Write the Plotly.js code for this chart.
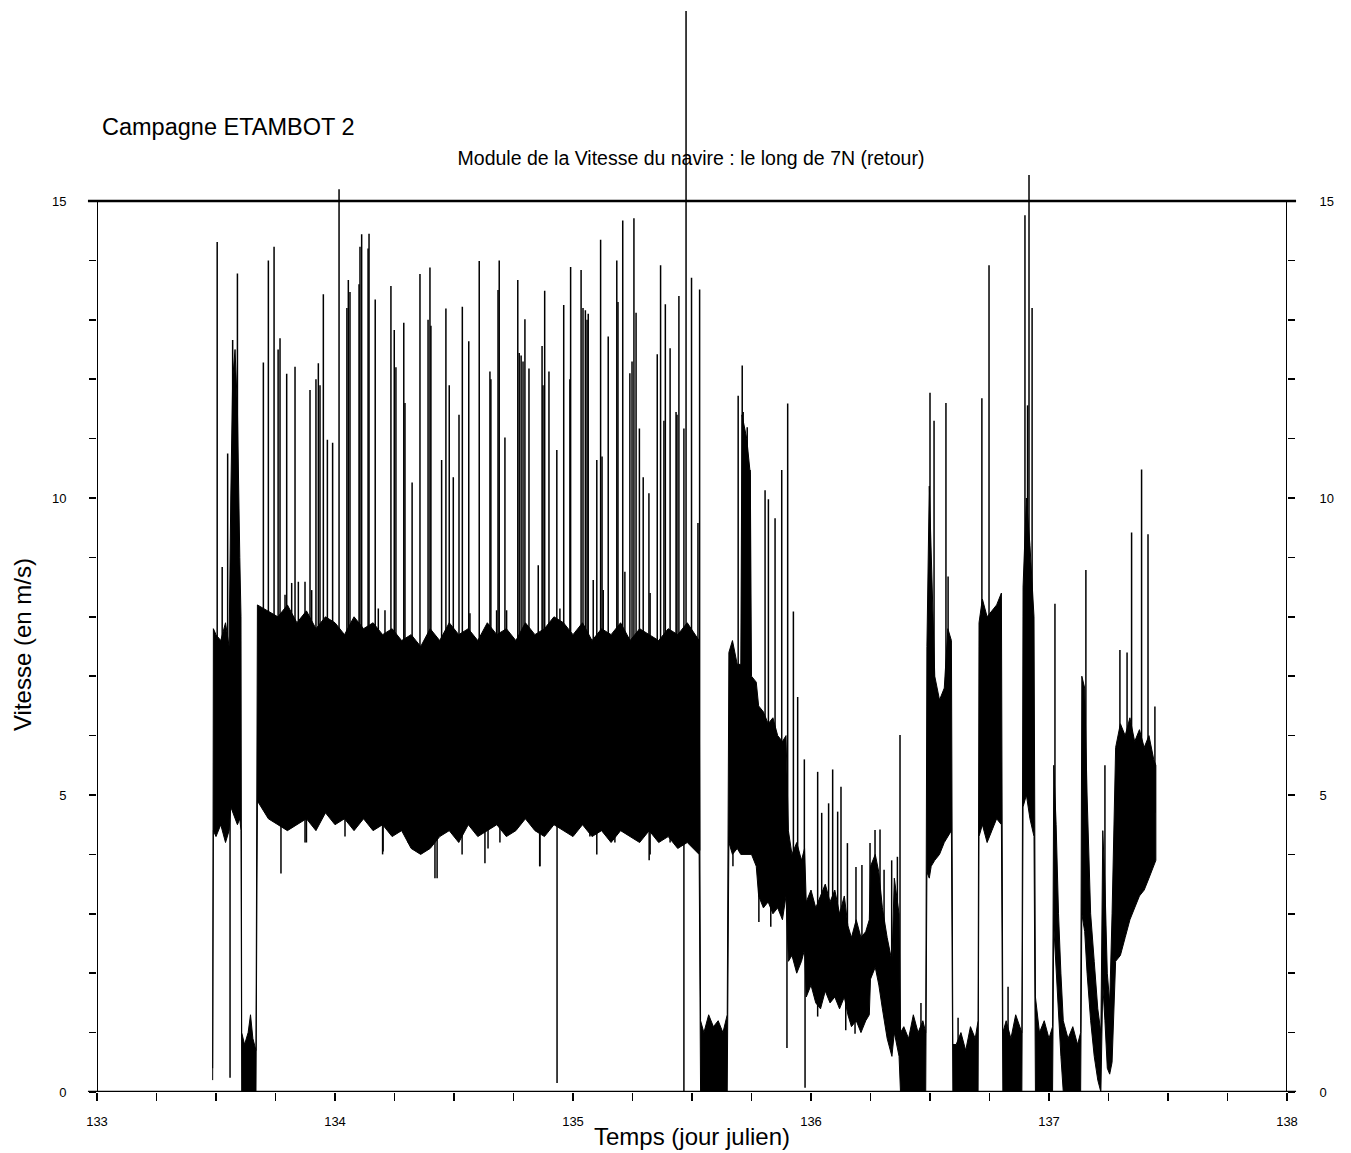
<!DOCTYPE html>
<html><head><meta charset="utf-8">
<script src="https://cdn.plot.ly/plotly-3.0.1.min.js"></script>
<style>body{margin:0;background:#fff}#chart{width:1351px;height:1153px}</style>
</head><body><div id="chart"></div>
<script>
// ---- Dense band of the speed record (julian day, lower / upper envelope in m/s)
const bandTime = [133.486,133.489,133.50,133.52,133.54,133.555,133.562,133.57,133.58,133.59,133.60,133.605,
 133.608,133.62,133.635,133.645,133.655,133.668,
 133.674,133.72,133.76,133.80,133.84,133.88,133.92,133.96,134.00,134.04,134.08,134.12,134.16,134.20,134.24,134.28,134.32,134.36,134.40,134.44,134.48,134.52,134.56,134.60,134.64,134.68,134.72,134.76,134.80,134.84,134.88,134.92,134.96,135.00,135.04,135.08,135.12,135.16,135.20,135.24,135.28,135.32,135.36,135.40,135.44,135.48,135.53,
 135.536,135.55,135.57,135.59,135.61,135.63,135.648,
 135.655,135.67,135.69,135.705,135.71,135.73,135.745,135.75,135.77,135.78,135.80,135.82,135.84,135.86,135.88,135.895,
 135.905,135.92,135.94,135.96,135.973,135.98,136.00,136.02,136.04,136.06,136.08,136.10,136.12,136.14,
 136.155,136.17,136.19,136.21,136.23,136.245,136.25,136.27,136.285,136.30,136.32,136.34,136.35,136.37,
 136.376,136.39,136.41,136.43,136.45,136.47,136.482,
 136.487,136.497,136.505,136.52,136.54,136.56,136.575,136.59,
 136.596,136.61,136.63,136.65,136.67,136.69,136.702,
 136.706,136.72,136.74,136.76,136.78,136.80,
 136.806,136.82,136.84,136.86,136.886,
 136.891,136.905,136.92,136.937,
 136.943,136.96,136.98,137.00,137.015,
 137.02,137.03,137.04,137.05,137.06,137.08,137.10,137.12,137.133,
 137.138,137.15,137.16,137.175,137.19,137.205,137.218,
 137.226,137.235,137.245,137.255,137.265,
 137.28,137.30,137.32,137.34,137.36,137.38,137.40,137.42,137.44,137.449];
const bandLow = [0.2,4.4,4.3,4.5,4.2,4.4,4.8,4.7,4.6,4.5,4.6,4.4,
 0,0,0,0,0,0,
 4.9,4.6,4.5,4.4,4.5,4.6,4.4,4.7,4.5,4.6,4.4,4.6,4.4,4.5,4.3,4.4,4.1,4.0,4.1,4.3,4.4,4.2,4.5,4.3,4.4,4.5,4.3,4.4,4.6,4.4,4.3,4.5,4.4,4.3,4.5,4.3,4.4,4.2,4.4,4.3,4.2,4.4,4.2,4.3,4.1,4.2,4.0,
 0,0,0,0,0,0,0,
 4.2,4.0,4.1,4.0,4.0,4.0,4.0,4.0,3.8,3.3,3.1,3.2,3.0,3.1,2.9,3.3,
 2.2,2.3,2.0,2.2,2.4,1.6,1.8,1.5,1.4,1.7,1.5,1.6,1.4,1.6,
 1.3,1.1,1.2,1.0,1.2,1.3,1.9,2.1,1.8,1.4,0.9,0.6,1.0,0.6,
 0,0,0,0,0,0,0,
 3.7,3.6,3.8,3.9,4.0,4.2,4.3,4.4,
 0,0,0,0,0,0,0,
 4.3,4.5,4.2,4.4,4.6,4.5,
 0,0,0,0,0,
 4.8,5.0,4.6,4.3,
 0,0,0,0,0,
 2.8,2.0,1.3,0.6,0,0,0,0,0,
 3.0,2.7,2.0,1.2,0.6,0.2,0,
 1.8,1.2,0.4,0.3,0.5,
 2.2,2.3,2.6,2.9,3.1,3.3,3.4,3.6,3.8,3.9];
const bandHigh = [0.4,7.8,7.7,7.6,7.9,7.5,10.0,12.0,12.5,11.5,9.0,8.0,
 1.0,0.8,1.0,1.3,0.9,0.7,
 8.2,8.1,8.0,8.2,7.9,8.1,7.8,8.0,7.9,7.7,8.0,7.8,7.9,7.7,7.8,7.6,7.7,7.5,7.8,7.6,7.9,7.7,7.8,7.6,7.9,7.7,7.8,7.6,7.9,7.7,7.8,8.0,7.9,7.7,7.9,7.6,7.8,7.7,7.9,7.6,7.8,7.7,7.6,7.8,7.7,7.9,7.6,
 1.2,1.0,1.3,1.1,1.2,1.0,1.3,
 7.4,7.6,7.2,7.2,11.4,11.0,10.4,7.0,6.9,6.5,6.4,6.2,6.3,6.0,5.9,6.0,
 4.4,4.0,4.2,3.9,4.1,3.2,3.4,3.1,3.3,3.5,3.2,3.4,3.0,3.3,
 2.8,2.6,2.9,2.6,2.7,2.9,3.8,4.0,3.7,3.1,2.6,2.2,3.6,3.0,
 1.0,1.1,0.9,1.3,1.0,1.2,1.0,
 7.5,10.2,9.0,7.0,6.6,6.8,7.8,7.6,
 0.8,0.8,1.0,0.7,1.1,0.9,1.2,
 7.9,8.3,8.0,8.1,8.2,8.4,
 1.0,1.2,0.9,1.3,1.0,
 8.5,10.0,9.2,8.0,
 1.6,1.0,1.2,0.9,1.1,
 5.5,4.5,3.0,2.0,1.2,0.9,1.1,0.8,1.0,
 7.0,6.8,5.0,3.0,2.2,1.4,1.0,
 4.4,3.5,2.0,1.5,3.0,
 5.8,6.2,6.0,6.3,5.9,6.1,5.8,6.0,5.6,5.5];

// ---- Isolated upward spikes (julian day, peak speed m/s)
const spikeTime = [133.505,133.526,133.549,133.570,133.590,133.699,133.720,133.744,133.761,133.769,133.790,133.797,133.818,133.832,133.846,133.874,133.895,133.902,133.920,133.930,133.937,133.951,133.968,133.990,
 134.017,134.050,134.056,134.063,134.101,134.105,134.112,134.139,134.143,134.169,134.182,134.210,134.235,134.249,134.256,134.289,134.294,134.324,134.357,134.391,134.399,134.403,134.448,134.466,134.480,134.497,134.521,134.535,134.562,134.567,134.606,134.651,134.655,134.679,134.685,134.690,134.714,134.721,134.768,134.774,134.782,134.790,134.798,134.815,134.854,134.870,134.874,134.881,134.899,134.932,134.945,134.961,134.987,134.990,
 135.034,135.042,135.052,135.059,135.064,135.085,135.100,135.116,135.122,135.127,135.148,135.184,135.189,135.209,135.218,135.239,135.248,135.256,135.265,135.279,135.295,135.319,135.324,135.354,135.368,135.382,135.388,135.408,135.433,135.437,135.445,135.466,135.475,135.498,135.525,135.532,
 135.694,135.711,135.715,135.732,135.744,135.807,135.821,135.849,135.877,135.902,135.926,135.944,135.972,
 136.028,136.045,136.074,136.091,136.112,136.126,136.153,136.189,136.214,136.248,136.269,136.290,136.307,136.339,136.363,136.374,136.462,136.500,136.517,136.567,136.576,136.618,136.718,136.748,136.828,136.899,136.910,136.916,136.929,
 137.025,137.155,137.235,137.298,137.328,137.347,137.389,137.416,137.445];
const spikeTop = [14.31,8.84,10.75,12.66,13.78,12.28,14.00,14.23,12.50,12.69,8.37,12.09,8.57,12.21,8.59,8.59,11.82,8.45,12.00,12.27,11.90,13.43,10.98,10.93,
 15.20,13.20,13.67,13.47,13.60,14.23,14.44,14.20,14.45,13.34,8.14,8.11,13.57,12.83,12.20,12.95,11.60,10.26,13.77,13.00,13.88,12.90,10.64,13.19,11.90,10.35,11.40,13.22,12.64,8.06,13.99,12.13,12.00,8.11,13.50,14.00,11.02,8.11,13.67,12.44,12.40,12.30,13.01,12.18,8.87,12.56,11.90,13.49,12.13,10.81,8.14,13.25,12.00,13.89,
 13.84,13.20,13.16,13.00,13.10,8.62,10.64,14.35,10.70,8.45,12.72,14.00,13.30,14.67,8.76,12.10,12.30,14.71,13.12,11.17,10.35,10.08,8.40,12.42,13.92,11.30,13.26,12.52,11.45,11.40,13.40,11.17,18.20,13.71,9.58,13.51,
 11.72,12.23,11.45,11.19,10.47,10.13,9.98,9.66,10.47,11.59,8.09,6.65,5.60,
 5.39,4.70,4.86,5.43,4.72,5.14,4.19,3.79,3.82,4.19,4.41,4.42,3.74,3.90,3.96,6.01,1.50,11.77,11.30,11.60,8.68,1.25,11.68,13.92,1.77,14.76,11.56,15.44,13.20,
 8.22,8.79,5.50,7.44,7.40,9.42,10.48,9.39,6.49];

// ---- Isolated downward drops (julian day, lowest speed m/s)
const dipTime = [133.559,133.773,133.874,133.880,134.042,134.200,134.202,134.307,134.420,134.429,134.534,134.630,134.643,134.693,134.860,134.861,134.933,135.071,135.100,135.176,135.320,135.324,135.408,135.466,135.672,135.781,135.831,135.899,135.975,136.028,136.146,136.185];
const dipBottom = [0.24,3.68,4.20,4.20,4.30,4.00,4.05,4.20,3.60,3.60,4.00,3.85,4.10,4.20,3.80,3.80,0.15,4.30,4.00,4.20,3.90,4.00,4.20,0.00,3.80,2.86,2.78,0.74,0.07,1.27,1.04,0.98];

// ---- Axis ticks
const xTickValues = [133,133.25,133.5,133.75,134,134.25,134.5,134.75,135,135.25,135.5,135.75,136,136.25,136.5,136.75,137,137.25,137.5,137.75,138];
const xTickLabels = ['133','','','','134','','','','135','','','','136','','','','137','','','','138'];
const yTickValues = [0,1,2,3,4,5,6,7,8,9,10,11,12,13,14,15];
const yTickLabels = ['0','','','','','5','','','','','10','','','','','15'];

function bandMid(t){
  for (let i = 1; i < bandTime.length; i++){
    if (t <= bandTime[i]){
      const t0 = bandTime[i-1], t1 = bandTime[i];
      const f = (t - t0) / (t1 - t0);
      const m0 = (bandLow[i-1] + bandHigh[i-1]) / 2, m1 = (bandLow[i] + bandHigh[i]) / 2;
      return m0 + f * (m1 - m0);
    }
  }
  const n = bandTime.length - 1;
  return (bandLow[n] + bandHigh[n]) / 2;
}

// band polygon
const polyX = bandTime.concat(bandTime.slice().reverse());
const polyY = bandHigh.concat(bandLow.slice().reverse());

const sx = [], sy = [];
spikeTime.forEach((t, i) => { sx.push(t, t, null); sy.push(bandMid(t), spikeTop[i], null); });
dipTime.forEach((t, i) => { sx.push(t, t, null); sy.push(bandMid(t), dipBottom[i], null); });

const traces = [
  {type:'scatter', mode:'lines', x: polyX, y: polyY, fill:'toself', fillcolor:'#000',
   line:{color:'#000', width:1}, hoverinfo:'skip'},
  {type:'scatter', mode:'lines', x: sx, y: sy, line:{color:'#000', width:1.5}, hoverinfo:'skip', connectgaps:false},
  {type:'scatter', mode:'lines', x:[133,138], y:[0,0], yaxis:'y2', line:{width:0, color:'rgba(0,0,0,0)'}, hoverinfo:'skip'}
];

const yRange = [0, 18.3];
const layout = {
  width:1351, height:1153,
  margin:{l:97, r:64, t:5, b:61},
  paper_bgcolor:'#fff', plot_bgcolor:'#fff',
  showlegend:false,
  font:{family:'"Liberation Sans", Arial, Helvetica, sans-serif', color:'#000'},
  title:{text:'Module de la Vitesse du navire : le long de 7N (retour)', font:{size:19.5, color:'#000'},
         xref:'container', x:691/1351, xanchor:'center', yref:'container', y:1-158/1153, yanchor:'middle'},
  xaxis:{range:[133,138], tickmode:'array', tickvals:xTickValues, ticktext:xTickLabels,
         ticks:'outside', ticklen:8, tickwidth:1.6, tickcolor:'#000', showgrid:false, zeroline:false, showline:false,
         tickfont:{size:13}, ticklabelstandoff:9,
         title:{text:'Temps (jour julien)', font:{size:24}, standoff:0}},
  yaxis:{range:yRange, tickmode:'array', tickvals:yTickValues, ticktext:yTickLabels,
         ticks:'outside', ticklen:7, tickwidth:1.6, tickcolor:'#000', showgrid:false, zeroline:false, showline:false,
         tickfont:{size:13}, ticklabelstandoff:20},
  yaxis2:{range:yRange, overlaying:'y', side:'right', tickmode:'array', tickvals:yTickValues, ticktext:yTickLabels,
         ticks:'outside', ticklen:7, tickwidth:1.6, tickcolor:'#000', showgrid:false, zeroline:false, showline:false,
         tickfont:{size:13}, ticklabelstandoff:22},
  shapes:[
    {type:'line', xref:'paper', yref:'y', x0:-0.0076, x1:1.0076, y0:0, y1:0, line:{color:'#000', width:2.6}, layer:'above'},
    {type:'line', xref:'paper', yref:'y', x0:-0.0076, x1:1.0076, y0:15, y1:15, line:{color:'#000', width:2.4}, layer:'above'},
    {type:'line', xref:'x', yref:'y', x0:133, x1:133, y0:0, y1:15, line:{color:'#000', width:2}, layer:'above'},
    {type:'line', xref:'x', yref:'y', x0:138, x1:138, y0:0, y1:15, line:{color:'#000', width:2}, layer:'above'}
  ],
  annotations:[
    {text:'Campagne ETAMBOT 2', xref:'paper', yref:'paper', x:3/1190, y:(1092-127)/1087,
     xanchor:'left', yanchor:'middle', showarrow:false, font:{size:23.5, color:'#000'}},
    {text:'Vitesse (en m/s)', xref:'paper', yref:'paper', x:(22-97)/1190, y:(1092-645)/1087,
     xanchor:'center', yanchor:'middle', textangle:-90, showarrow:false, font:{size:24, color:'#000'}}
  ]
};

Plotly.newPlot('chart', traces, layout, {displayModeBar:false, staticPlot:true});
</script>
</body></html>
